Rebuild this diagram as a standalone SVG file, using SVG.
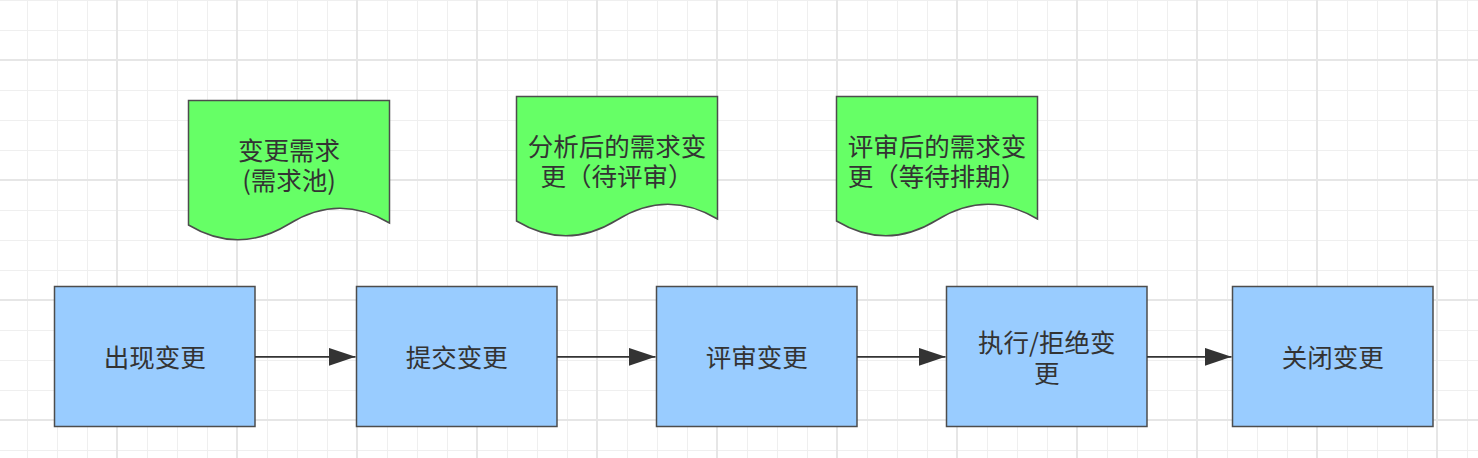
<svg xmlns="http://www.w3.org/2000/svg" width="1478" height="458" viewBox="0 0 1478 458">
<defs>
<pattern id="gs" patternUnits="userSpaceOnUse" x="12" y="-15" width="30" height="30"><path d="M15.5 0V30M0 15.5H30" stroke="#efefef" stroke-width="1" fill="none"/></pattern>
<pattern id="gb" patternUnits="userSpaceOnUse" x="57" y="0" width="120" height="120"><path d="M60 0V120M0 60H120" stroke="#e6e6e6" stroke-width="2" fill="none"/></pattern>
<marker id="ah" markerUnits="userSpaceOnUse" markerWidth="28" markerHeight="20" refX="27" refY="9" orient="auto"><path d="M0 0L27 9L0 18Z" fill="#333333"/></marker>
</defs>
<style>
.box{fill:#99ccff;stroke:#4d4d4d;stroke-width:1.5}
.doc{fill:#66ff66;stroke:#4d4d4d;stroke-width:1.5}
.t{font-family:"Noto Sans CJK SC","Noto Sans",sans-serif;font-size:25.5px;fill:#333333;text-anchor:middle}
.c{stroke:#333333;stroke-width:1.8;fill:none;marker-end:url(#ah)}
</style>
<rect width="1478" height="458" fill="#ffffff"/>
<rect width="1478" height="458" fill="url(#gs)"/>
<rect width="1478" height="458" fill="url(#gb)"/>

<g id="doc1">
<path class="doc" d="M188.5,100.5H389.5V223Q339,193 289,224Q238.5,255 188.5,225Z"/>
<text class="t" x="289" y="159.5">变更需求</text>
<text class="t" x="289" y="189.5">(需求池)</text>
</g>
<g id="doc2">
<path class="doc" d="M516.5,96.5H717.5V219Q667,189 617,220Q566.5,251 516.5,221Z"/>
<text class="t" x="617" y="156">分析后的需求变</text>
<text class="t" x="617" y="186">更（待评审）</text>
</g>
<g id="doc3">
<path class="doc" d="M836.5,96.5H1037.5V219Q987,189 937,220Q886.5,251 836.5,221Z"/>
<text class="t" x="937" y="156">评审后的需求变</text>
<text class="t" x="937" y="186">更（等待排期）</text>
</g>

<g id="n1"><rect class="box" x="54.5" y="286.5" width="200.5" height="140"/><text class="t" x="154.7" y="367">出现变更</text></g>
<g id="n2"><rect class="box" x="356.5" y="286.5" width="200.5" height="140"/><text class="t" x="456.7" y="367">提交变更</text></g>
<g id="n3"><rect class="box" x="656.5" y="286.5" width="200.5" height="140"/><text class="t" x="756.7" y="367">评审变更</text></g>
<g id="n4"><rect class="box" x="946.5" y="286.5" width="200.5" height="140"/><text class="t" x="1046.7" y="351.5">执行/拒绝变</text><text class="t" x="1046.7" y="383">更</text></g>
<g id="n5"><rect class="box" x="1232.5" y="286.5" width="200.5" height="140"/><text class="t" x="1332.7" y="367">关闭变更</text></g>

<g id="connectors">
<path class="c" d="M255,356.8H355.5"/>
<path class="c" d="M557,356.8H655.5"/>
<path class="c" d="M857,356.8H945.5"/>
<path class="c" d="M1147,356.8H1231.5"/>
</g>
</svg>
